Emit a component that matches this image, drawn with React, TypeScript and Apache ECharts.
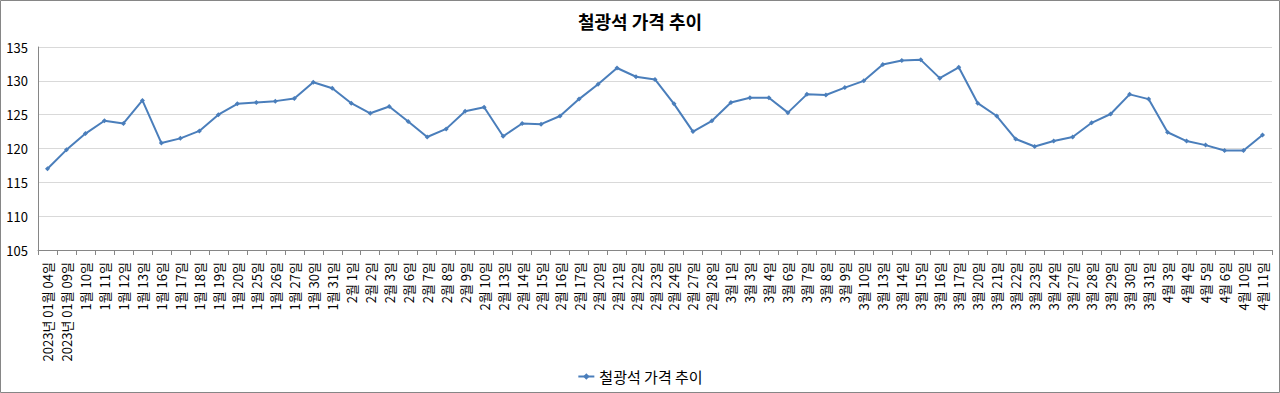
import React, { useEffect, useRef } from "react";
import * as echarts from "echarts";

const titleText = "철광석 가격 추이";
const seriesName = "철광석 가격 추이";

const categories = [
  "2023년 01월 04일", "2023년 01월 09일",
  "1월 10일", "1월 11일", "1월 12일", "1월 13일", "1월 16일", "1월 17일", "1월 18일", "1월 19일",
  "1월 20일", "1월 25일", "1월 26일", "1월 27일", "1월 30일", "1월 31일",
  "2월 1일", "2월 2일", "2월 3일", "2월 6일", "2월 7일", "2월 8일", "2월 9일", "2월 10일",
  "2월 13일", "2월 14일", "2월 15일", "2월 16일", "2월 17일", "2월 20일", "2월 21일", "2월 22일",
  "2월 23일", "2월 24일", "2월 27일", "2월 28일",
  "3월 1일", "3월 3일", "3월 4일", "3월 6일", "3월 7일", "3월 8일", "3월 9일", "3월 10일",
  "3월 13일", "3월 14일", "3월 15일", "3월 16일", "3월 17일", "3월 20일", "3월 21일", "3월 22일",
  "3월 23일", "3월 24일", "3월 27일", "3월 28일", "3월 29일", "3월 30일", "3월 31일",
  "4월 3일", "4월 4일", "4월 5일", "4월 6일", "4월 10일", "4월 11일",
];

const prices = [
  117.0, 119.8, 122.2, 124.1, 123.7, 127.1, 120.8, 121.5, 122.6, 125.0,
  126.6, 126.8, 127.0, 127.4, 129.8, 128.9,
  126.7, 125.2, 126.2, 124.0, 121.7, 122.9, 125.5, 126.1,
  121.8, 123.7, 123.6, 124.8, 127.3, 129.5, 131.9, 130.6,
  130.2, 126.6, 122.5, 124.1,
  126.8, 127.5, 127.5, 125.3, 128.0, 127.9, 129.0, 130.0,
  132.4, 133.0, 133.1, 130.4, 132.0, 126.7, 124.8, 121.4,
  120.3, 121.1, 121.7, 123.8, 125.1, 128.0, 127.3,
  122.4, 121.1, 120.5, 119.7, 119.7, 122.0,
];

const yMin = 105;
const yMax = 135;
const yInterval = 5;

const FONT = "'Noto Sans CJK KR', 'Noto Sans', sans-serif";

export default function App() {
  const ref = useRef<HTMLDivElement>(null);
  useEffect(() => {
    if (!ref.current) return;
    const chart = echarts.init(ref.current, undefined, { renderer: "svg" });
    chart.setOption({
      animation: false,
      backgroundColor: "#ffffff",
      textStyle: { fontFamily: FONT },
      title: {
        text: titleText,
        left: "center",
        top: 7,
        textStyle: { fontSize: 18, fontWeight: "bold", color: "#000", fontFamily: FONT },
      },
      legend: {
        bottom: 4,
        left: "center",
        itemWidth: 16,
        itemHeight: 8,
        itemGap: 4,
        textStyle: { fontSize: 15, color: "#000", fontFamily: FONT },
        data: [seriesName],
      },
      grid: { left: 38, right: 8, top: 47, bottom: 143 },
      xAxis: {
        type: "category",
        data: categories,
        boundaryGap: true,
        axisLine: { lineStyle: { color: "#868686" } },
        axisTick: { show: true, length: 5, lineStyle: { color: "#868686" } },
        axisLabel: {
          interval: 0,
          rotate: 90,
          fontSize: 13,
          color: "#000",
          margin: 12,
          fontFamily: FONT,
        },
      },
      yAxis: {
        type: "value",
        min: yMin,
        max: yMax,
        interval: yInterval,
        axisLine: { show: true, lineStyle: { color: "#868686" } },
        axisTick: { show: false },
        axisLabel: { fontSize: 13, color: "#000", margin: 10, fontFamily: FONT },
        splitLine: { lineStyle: { color: "#d9d9d9", width: 1 } },
      },
      series: [
        {
          name: seriesName,
          type: "line",
          data: prices,
          symbol: "diamond",
          symbolSize: 5,
          itemStyle: { color: "#4a7ebb" },
          lineStyle: { color: "#4a7ebb", width: 2 },
        },
      ],
      graphic: [
        {
          type: "rect",
          shape: { x: 0.5, y: 0.5, width: 1279, height: 392 },
          style: { fill: "none", stroke: "#868686", lineWidth: 1 },
          silent: true,
        },
      ],
    });
    return () => chart.dispose();
  }, []);
  return (
    <div
      ref={ref}
      style={{ position: "fixed", left: 0, top: 0, width: 1280, height: 393 }}
    />
  );
}
